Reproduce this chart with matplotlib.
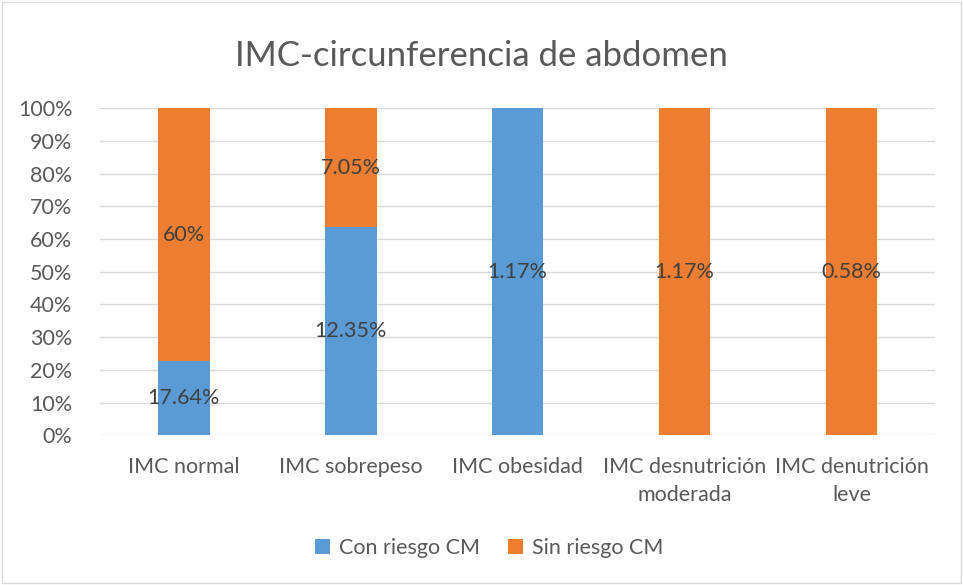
import matplotlib
matplotlib.use("Agg")
import matplotlib.pyplot as plt
from matplotlib.patches import Rectangle
import numpy as np

categories = ["IMC normal", "IMC sobrepeso", "IMC obesidad", "IMC desnutrición\nmoderada", "IMC denutrición\nleve"]
con_riesgo = [17.64, 12.35, 1.17, 0.0, 0.0]
sin_riesgo = [60.0, 7.05, 0.0, 1.17, 0.58]
con_labels = ["17.64%", "12.35%", "1.17%", "", ""]
sin_labels = ["60%", "7.05%", "", "1.17%", "0.58%"]
series_names = ["Con riesgo CM", "Sin riesgo CM"]
title = "IMC-circunferencia de abdomen"

plt.rcParams['font.family'] = ['Lato', 'DejaVu Sans']
blue = "#5B9BD5"
orange = "#ED7D31"
txt = "#595959"
fs = 15.5

fig = plt.figure(figsize=(9.63, 5.85), dpi=100)
ax = fig.add_axes([0.104, 0.256, 0.867, 0.559])

con = np.array(con_riesgo)
sin = np.array(sin_riesgo)
tot = con + sin
pc = np.where(tot > 0, con / tot * 100, 0)
ps = np.where(tot > 0, sin / tot * 100, 0)
x = np.arange(len(categories))
w = 0.31
ax.bar(x, pc, w, color=blue, label=series_names[0], zorder=3)
ax.bar(x, ps, w, bottom=pc, color=orange, label=series_names[1], zorder=3)
for i in range(len(x)):
    if con_labels[i]:
        ax.text(x[i], pc[i] / 2, con_labels[i], ha="center", va="center", fontsize=fs, color="#404040", zorder=4)
    if sin_labels[i]:
        ax.text(x[i], pc[i] + ps[i] / 2, sin_labels[i], ha="center", va="center", fontsize=fs, color="#404040", zorder=4)

ax.set_xlim(-0.5, len(categories) - 0.5)
ax.set_ylim(0, 100)
ax.set_yticks(np.arange(0, 101, 10))
ax.set_yticklabels([f"{v}%" for v in range(0, 101, 10)], fontsize=fs, color=txt)
ax.set_xticks(x)
ax.set_xticklabels(categories, fontsize=fs, color=txt, linespacing=1.5)
ax.tick_params(axis="both", length=0)
ax.tick_params(axis="x", pad=16)
ax.tick_params(axis="y", pad=20)
ax.grid(axis="y", color="#D9D9D9", linewidth=1, zorder=0)
for s in ax.spines.values():
    s.set_visible(False)

fig.text(0.5, 0.905, title, ha="center", va="center", fontsize=25, color=txt)
fig.legend(loc="center", bbox_to_anchor=(0.508, 0.063), ncol=2, frameon=False,
           fontsize=fs, handlelength=0.7, handleheight=0.7, columnspacing=1.3,
           labelcolor=txt, handletextpad=0.4)
fig.patches.append(Rectangle((0.002, 0.003), 0.996, 0.994, transform=fig.transFigure,
                             fill=False, edgecolor="#D9D9D9", linewidth=1))
fig.savefig("out.png", dpi=100, facecolor="white")
